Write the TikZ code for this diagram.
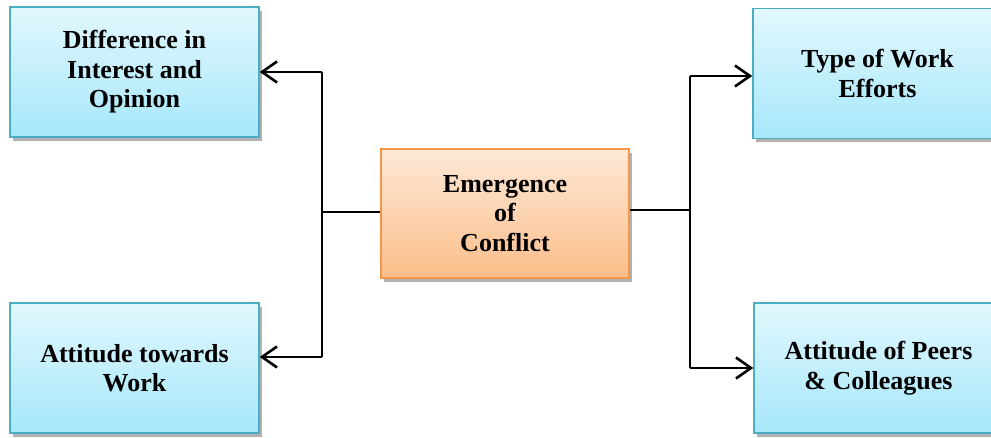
\documentclass[tikz,border=0pt]{standalone}
\usepackage{fontspec}
\setmainfont{Liberation Serif}[BoldFont={Liberation Serif Bold}]
\newfontfamily\boxfont{Liberation Serif Bold}
\usetikzlibrary{arrows.meta,shadows}
\definecolor{bluetop}{HTML}{E2F8FE}
\definecolor{bluebot}{HTML}{A6E7FA}
\definecolor{blueedge}{HTML}{4BACC6}
\definecolor{orgtop}{HTML}{FDE8D6}
\definecolor{orgbot}{HTML}{FBBE8A}
\definecolor{orgedge}{HTML}{F79646}
\tikzset{
  box/.style={rectangle, draw=blueedge, line width=1.5pt, top color=bluetop, bottom color=bluebot,
    minimum width=249pt, minimum height=130pt, inner sep=0pt, align=center,
    font=\boxfont\fontsize{26}{29.5}\selectfont,
    drop shadow={shadow xshift=3pt, shadow yshift=-4pt, fill=black, opacity=0.3}},
  centerbox/.style={box, draw=orgedge, top color=orgtop, bottom color=orgbot, minimum width=248pt, minimum height=129pt},
  conn/.style={draw=black, line width=2.6pt},
  thinconn/.style={draw=black, line width=1.6pt},
  arr/.style={conn, -{Straight Barb[length=15pt,width=21pt,line width=2.6pt]}}
}
\begin{document}
\begin{tikzpicture}[x=1pt,y=1pt]
\useasboundingbox (0,0) rectangle (991,438);
\fill[white] (0,0) rectangle (991,438);
\begin{scope}
\clip (0,0) rectangle (991,438);
\node[box] (dif) at (134.5,366) {Difference in\\Interest and\\Opinion};
\node[box] (att) at (134.5,70) {Attitude towards\\Work};
\node[centerbox] (emc) at (505,224.5) {Emergence\\of\\Conflict};
\node[box] (typ) at (877.5,364.5) {Type of Work\\Efforts};
\node[box] (pee) at (878.5,70) {Attitude of Peers\\\& Colleagues};
\end{scope}
% left side
\coordinate (lt) at (322,366);
\coordinate (lb) at (322,81);
\coordinate (lm) at (322,226);
\draw[thinconn] (emc.west |- lm) -- (lm);
\draw[conn] (lt) -- (lb);
\draw[arr] (lt) -- (dif.east |- lt);
\draw[arr] (lb) -- (att.east |- lb);
% right side
\coordinate (rt) at (690,362);
\coordinate (rb) at (690,70);
\coordinate (rm) at (690,228);
\draw[conn] (emc.east |- rm) -- (rm);
\draw[conn] (rt) -- (rb);
\draw[arr] (rt) -- (typ.west |- rt);
\draw[arr] (rb) -- (pee.west |- rb);
\end{tikzpicture}
\end{document}
